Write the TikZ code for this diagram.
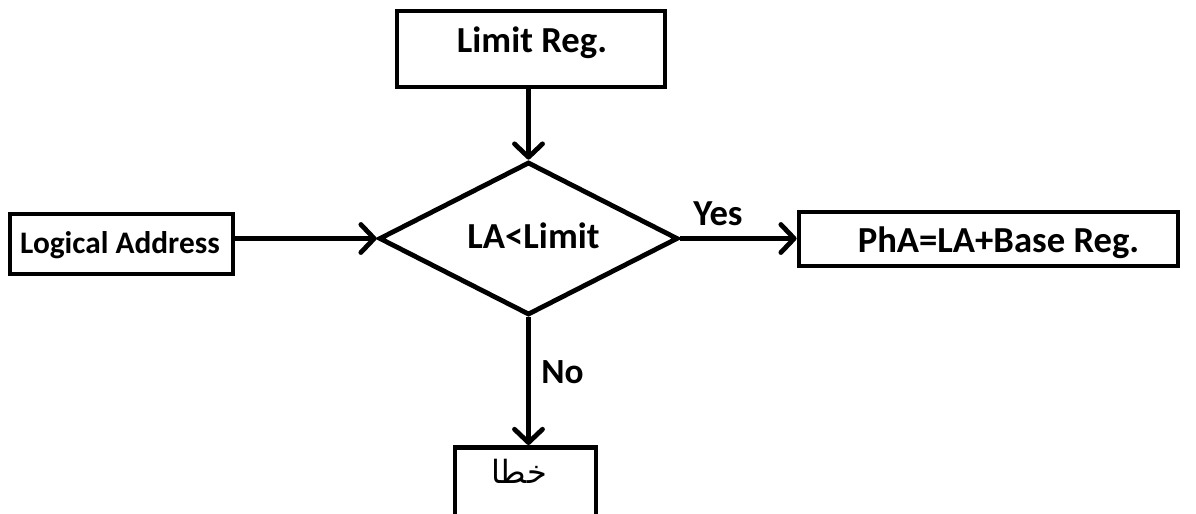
\documentclass[tikz,border=0pt]{standalone}
\usepackage{fontspec}
\setmainfont{Carlito}
\newfontfamily\arabicfont[Script=Arabic]{DejaVu Sans}
\TeXXeTstate=1
\usetikzlibrary{arrows.meta,shapes.geometric}
\newcommand\pxu{0.75pt}
\tikzset{
  box/.style={draw, line width=3.6pt, rectangle, inner sep=0pt},
  decision/.style={draw, line width=3.6pt, diamond, inner sep=0pt},
  flow/.style={line width=3.6pt, -{Straight Barb[length=10pt,width=21pt,round]}},
  lbl/.style={font=\bfseries\fontsize{27.5}{30}\selectfont, anchor=base, inner sep=0pt},
  lblsmall/.style={font=\bfseries\fontsize{23.5}{26}\selectfont, anchor=base, inner sep=0pt},
}
\begin{document}
\begin{tikzpicture}[x=\pxu, y=-\pxu]
  \clip (0,0) rectangle (1196,514);
  \fill[white] (0,0) rectangle (1196,514);

  % boxes
  \node[box, minimum width=268*\pxu, minimum height=76*\pxu] (limit) at (531,49) {};
  \node[box, minimum width=223*\pxu, minimum height=60*\pxu] (logical) at (121.5,244) {};
  \node[box, minimum width=379*\pxu, minimum height=54*\pxu] (pha) at (988.5,239) {};
  \node[decision, minimum width=299*\pxu, minimum height=153*\pxu] (test) at (528.5,238.5) {};
  \node[box, minimum width=141*\pxu, minimum height=100*\pxu, anchor=north] (err) at (525.5,445) {};

  % texts
  \node[lbl] (limittxt) at (532,52) {Limit Reg.};
  \node[lblsmall] (logicaltxt) at (120,253) {Logical Address};
  \node[lbl] (phatxt) at (998.5,252) {PhA=LA+Base Reg.};
  \node[lbl] (testtxt) at (533.5,248) {LA<Limit};
  \node[lbl] (yes) at (718,225) {Yes};
  \node[lbl, font=\bfseries\fontsize{26.5}{30}\selectfont] (no) at (562.5,383) {No};
  \node[anchor=base, inner sep=0pt, font=\fontsize{24}{28}\selectfont] (errtxt) at (519,483) {\arabicfont\beginR خطا\endR};

  % connectors
  \draw[flow] (limit.south -| test.north) -- (test.north);
  \draw[flow] (logical.east |- test.west) -- (test.west);
  \draw[flow] (test.east) -- (pha.west |- test.east);
  \draw[flow] (test.south) -- (err.north -| test.south);
\end{tikzpicture}
\end{document}
